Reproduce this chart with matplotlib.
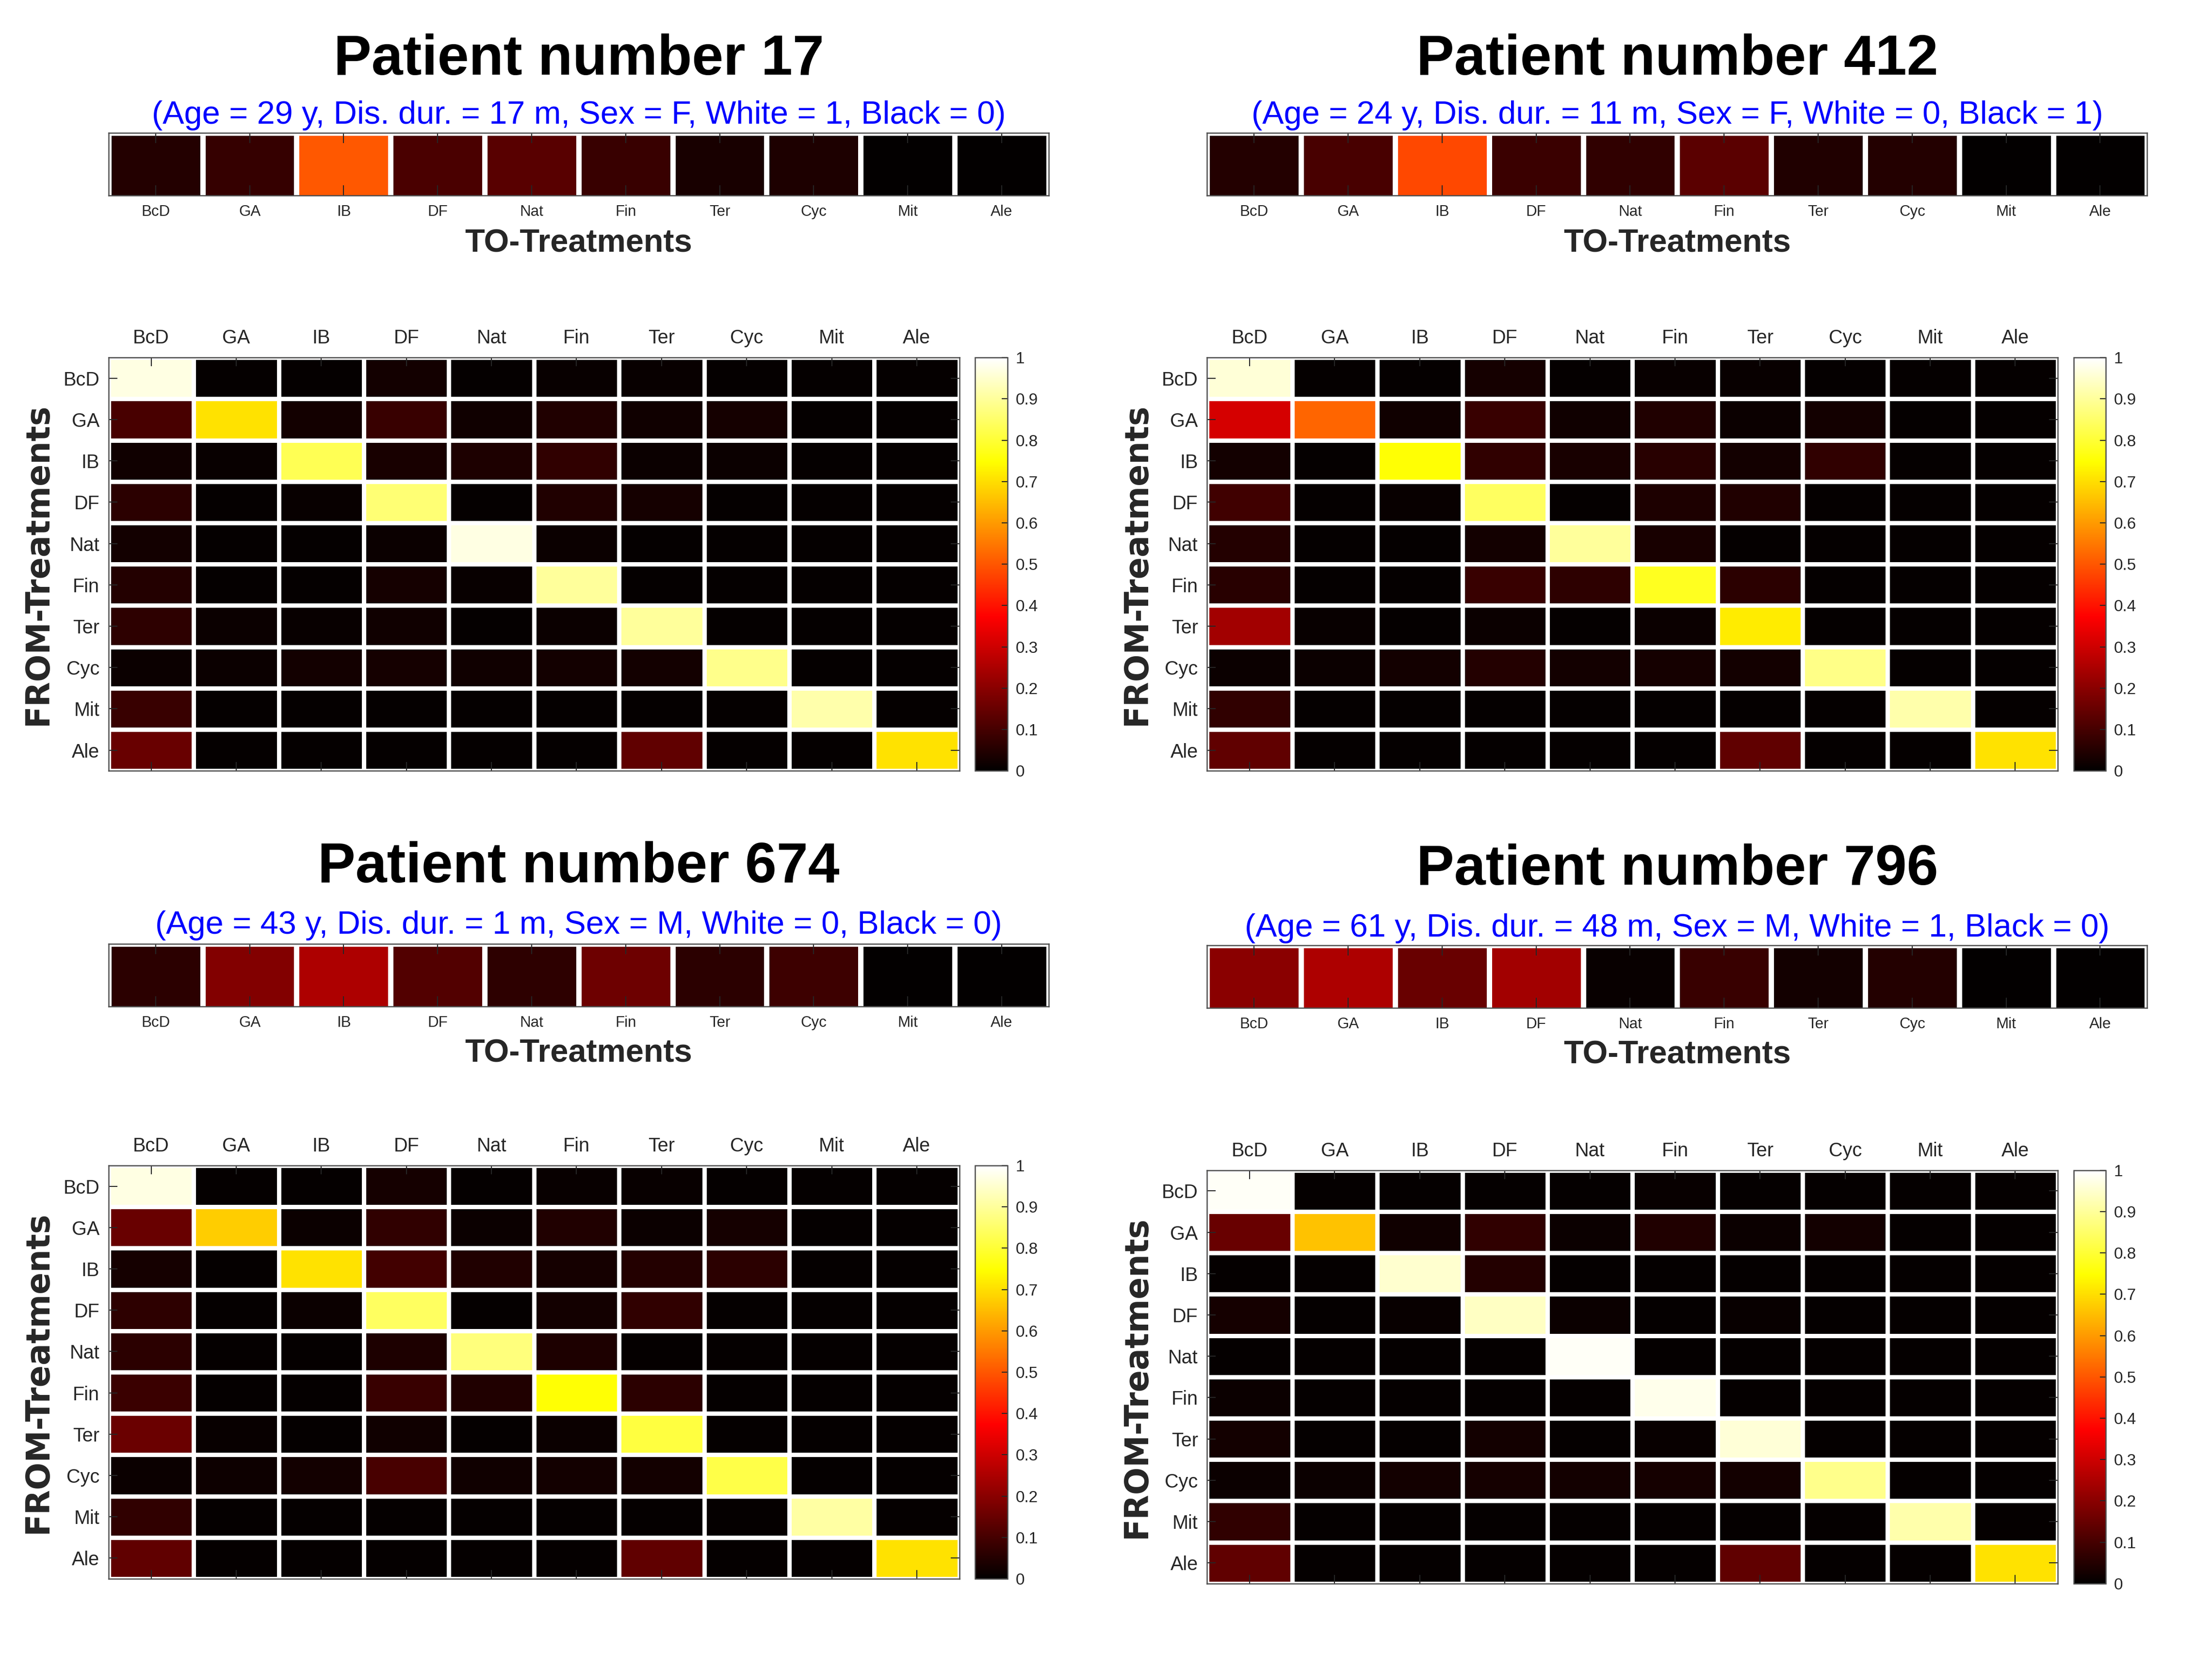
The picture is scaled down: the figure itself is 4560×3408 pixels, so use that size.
import numpy as np
import matplotlib
matplotlib.use('Agg')
import matplotlib.pyplot as plt
from matplotlib.colors import ListedColormap

# ---------------- data ----------------
treatments = ['BcD', 'GA', 'IB', 'DF', 'Nat', 'Fin', 'Ter', 'Cyc', 'Mit', 'Ale']
patients = [17, 412, 674, 796]
ages = [29, 24, 43, 61]
dis_dur = [17, 11, 1, 48]
sexes = ['F', 'F', 'M', 'M']
white_flag = [1, 0, 0, 1]
black_flag = [0, 1, 0, 0]

# TO-treatment probability (top bars)
to_p17 = [0.047, 0.078, 0.50, 0.106, 0.125, 0.082, 0.035, 0.040, 0.0, 0.0]
to_p412 = [0.050, 0.105, 0.48, 0.085, 0.070, 0.130, 0.045, 0.050, 0.0, 0.0]
to_p674 = [0.060, 0.190, 0.25, 0.118, 0.065, 0.160, 0.062, 0.088, 0.0, 0.0]
to_p796 = [0.200, 0.250, 0.15, 0.235, 0.010, 0.082, 0.027, 0.050, 0.0, 0.0]

# FROM -> TO transition matrices
from_p17 = [
    [0.970, 0.005, 0.005, 0.025, 0.005, 0.010, 0.008, 0.005, 0.005, 0.005],
    [0.105, 0.705, 0.025, 0.080, 0.020, 0.045, 0.020, 0.030, 0.005, 0.005],
    [0.020, 0.010, 0.830, 0.035, 0.040, 0.070, 0.015, 0.015, 0.005, 0.005],
    [0.060, 0.005, 0.010, 0.860, 0.005, 0.045, 0.030, 0.005, 0.005, 0.005],
    [0.025, 0.005, 0.005, 0.015, 0.970, 0.015, 0.005, 0.005, 0.005, 0.005],
    [0.050, 0.005, 0.005, 0.030, 0.010, 0.900, 0.005, 0.005, 0.005, 0.005],
    [0.065, 0.015, 0.010, 0.020, 0.005, 0.015, 0.900, 0.005, 0.005, 0.005],
    [0.015, 0.015, 0.025, 0.030, 0.020, 0.025, 0.025, 0.885, 0.005, 0.005],
    [0.080, 0.005, 0.005, 0.005, 0.005, 0.005, 0.005, 0.005, 0.915, 0.005],
    [0.150, 0.005, 0.005, 0.005, 0.005, 0.005, 0.140, 0.005, 0.005, 0.705],
]
from_p412 = [
    [0.960, 0.005, 0.005, 0.030, 0.005, 0.010, 0.010, 0.005, 0.005, 0.005],
    [0.310, 0.520, 0.020, 0.080, 0.020, 0.045, 0.015, 0.025, 0.005, 0.005],
    [0.025, 0.005, 0.750, 0.070, 0.035, 0.055, 0.025, 0.070, 0.005, 0.005],
    [0.090, 0.005, 0.010, 0.840, 0.005, 0.040, 0.045, 0.005, 0.005, 0.005],
    [0.050, 0.005, 0.005, 0.025, 0.900, 0.035, 0.005, 0.005, 0.005, 0.005],
    [0.055, 0.005, 0.005, 0.080, 0.065, 0.780, 0.060, 0.005, 0.005, 0.005],
    [0.235, 0.010, 0.005, 0.015, 0.005, 0.012, 0.720, 0.005, 0.005, 0.005],
    [0.015, 0.015, 0.025, 0.047, 0.025, 0.030, 0.025, 0.880, 0.005, 0.005],
    [0.070, 0.005, 0.005, 0.005, 0.005, 0.005, 0.005, 0.005, 0.915, 0.005],
    [0.140, 0.005, 0.005, 0.005, 0.005, 0.005, 0.140, 0.005, 0.005, 0.705],
]
from_p674 = [
    [0.970, 0.005, 0.005, 0.030, 0.005, 0.010, 0.010, 0.005, 0.005, 0.005],
    [0.150, 0.675, 0.015, 0.070, 0.015, 0.045, 0.015, 0.030, 0.005, 0.005],
    [0.030, 0.005, 0.705, 0.095, 0.045, 0.028, 0.050, 0.060, 0.005, 0.005],
    [0.065, 0.005, 0.012, 0.840, 0.005, 0.025, 0.070, 0.005, 0.005, 0.005],
    [0.062, 0.005, 0.005, 0.042, 0.870, 0.040, 0.005, 0.005, 0.005, 0.005],
    [0.085, 0.005, 0.005, 0.082, 0.045, 0.750, 0.060, 0.005, 0.005, 0.005],
    [0.155, 0.010, 0.005, 0.020, 0.005, 0.012, 0.810, 0.005, 0.005, 0.005],
    [0.015, 0.018, 0.025, 0.105, 0.020, 0.025, 0.025, 0.820, 0.005, 0.005],
    [0.070, 0.005, 0.005, 0.005, 0.005, 0.005, 0.005, 0.005, 0.910, 0.005],
    [0.140, 0.005, 0.005, 0.005, 0.005, 0.005, 0.140, 0.005, 0.005, 0.705],
]
from_p796 = [
    [0.990, 0.005, 0.005, 0.005, 0.005, 0.008, 0.005, 0.005, 0.005, 0.005],
    [0.150, 0.660, 0.020, 0.070, 0.015, 0.045, 0.015, 0.027, 0.005, 0.005],
    [0.005, 0.005, 0.950, 0.047, 0.005, 0.005, 0.005, 0.005, 0.005, 0.005],
    [0.030, 0.005, 0.010, 0.940, 0.012, 0.005, 0.010, 0.005, 0.005, 0.005],
    [0.005, 0.005, 0.005, 0.005, 0.990, 0.005, 0.005, 0.005, 0.005, 0.005],
    [0.012, 0.005, 0.005, 0.005, 0.005, 0.980, 0.005, 0.005, 0.005, 0.005],
    [0.025, 0.005, 0.005, 0.025, 0.005, 0.010, 0.960, 0.005, 0.005, 0.005],
    [0.015, 0.015, 0.025, 0.030, 0.025, 0.030, 0.027, 0.885, 0.005, 0.005],
    [0.070, 0.005, 0.005, 0.005, 0.005, 0.005, 0.005, 0.005, 0.915, 0.005],
    [0.140, 0.005, 0.005, 0.005, 0.005, 0.005, 0.140, 0.005, 0.005, 0.705],
]

to_all = [to_p17, to_p412, to_p674, to_p796]
from_all = [from_p17, from_p412, from_p674, from_p796]

# ---------------- MATLAB "hot" colormap ----------------
m = 256
n = int(3 * m / 8)
r = np.concatenate([np.arange(1, n + 1) / n, np.ones(m - n)])
g = np.concatenate([np.zeros(n), np.arange(1, n + 1) / n, np.ones(m - 2 * n)])
b = np.concatenate([np.zeros(2 * n), np.arange(1, m - 2 * n + 1) / (m - 2 * n)])
hot = ListedColormap(np.column_stack([r, g, b]))

plt.rcParams['font.family'] = ['Liberation Sans', 'DejaVu Sans']
TXT = '#262626'
FRAME = '#262626'
SPINE = '#4d4d4d'

fig = plt.figure(figsize=(15.2, 11.36), dpi=300)

col_left = [0.0491, 0.5457]
bar_w = 0.4250
mat_w = 0.3846
cb_off = 0.3917
cb_w = 0.0146
bar_h = 0.0378
mat_h = 0.2500
# per panel: bar bottom, matrix bottom, title y, subtitle y, xlabel y
rows = [
    dict(bar=0.8817, mat=0.5337, title=0.9638, sub=0.9301, xl=0.8526),
    dict(bar=0.8817, mat=0.5337, title=0.9638, sub=0.9301, xl=0.8526),
    dict(bar=0.3911, mat=0.0449, title=0.4753, sub=0.4400, xl=0.3624),
    dict(bar=0.3903, mat=0.0420, title=0.4736, sub=0.4383, xl=0.3616),
]

xe = np.arange(len(treatments) + 1) - 0.5

for k in range(4):
    L = col_left[k % 2]
    p = rows[k]
    cx = L + bar_w / 2

    fig.text(cx, p['title'], f'Patient number {patients[k]}', ha='center', va='center',
             fontsize=28, fontweight='bold', color='black')
    sub = (f'(Age = {ages[k]} y, Dis. dur. = {dis_dur[k]} m, Sex = {sexes[k]}, '
           f'White = {white_flag[k]}, Black = {black_flag[k]})')
    fig.text(cx, p['sub'], sub, ha='center', va='center', fontsize=16, color=(0, 0, 1))

    # ---- TO bar ----
    axb = fig.add_axes([L, p['bar'], bar_w, bar_h])
    axb.pcolormesh(xe, np.array([-0.5, 0.5]), np.array([to_all[k]]), cmap=hot, vmin=0, vmax=1,
                   edgecolors='white', linewidth=2.2)
    axb.set_xlim(-0.5, 9.5)
    axb.set_ylim(0.465, -0.5)
    axb.set_xticks(range(len(treatments)))
    axb.set_xticklabels(treatments, fontsize=7.5, color=TXT)
    axb.set_yticks([])
    axb.tick_params(axis='x', direction='in', length=5, width=0.5, color=FRAME,
                    top=True, bottom=True, pad=4.6)
    for s in axb.spines.values():
        s.set_color(SPINE)
        s.set_linewidth(0.6)
    fig.text(cx, p['xl'], 'TO-Treatments', ha='center', va='center', fontsize=16,
             fontweight='bold', color=TXT)

    # ---- FROM matrix ----
    axm = fig.add_axes([L, p['mat'], mat_w, mat_h])
    mesh = axm.pcolormesh(xe, xe, np.array(from_all[k]), cmap=hot, vmin=0, vmax=1,
                          edgecolors='white', linewidth=2.1)
    axm.set_xlim(-0.5, 9.5)
    axm.set_ylim(9.5, -0.5)
    axm.set_xticks(range(len(treatments)))
    axm.set_yticks(range(len(treatments)))
    axm.set_xticklabels(treatments, fontsize=9.5, color=TXT)
    axm.set_yticklabels(treatments, fontsize=9.5, color=TXT)
    axm.xaxis.tick_top()
    axm.tick_params(axis='x', direction='in', length=4.3, width=0.5, color=FRAME,
                    top=True, bottom=True, labeltop=True, labelbottom=False, pad=5)
    axm.tick_params(axis='y', direction='in', length=4.3, width=0.5, color=FRAME,
                    left=True, right=True, pad=4.5)
    for s in axm.spines.values():
        s.set_color(SPINE)
        s.set_linewidth(0.6)
    fig.text(L - 0.032, p['mat'] + mat_h / 2, 'FROM-Treatments', rotation=90,
             ha='center', va='center', fontsize=16, fontweight='bold', color=TXT,
             family=['DejaVu Sans'])

    # ---- colorbar ----
    cax = fig.add_axes([L + cb_off, p['mat'], cb_w, mat_h])
    cb = fig.colorbar(mesh, cax=cax, ticks=np.round(np.arange(0, 1.01, 0.1), 1))
    cb.ax.set_yticklabels(['0'] + [f'{v:.1f}' for v in np.arange(0.1, 0.95, 0.1)] + ['1'])
    cb.ax.tick_params(direction='in', length=3, width=0.5, color=FRAME, labelsize=8,
                      labelcolor=TXT, pad=4)
    cb.outline.set_edgecolor(SPINE)
    cb.outline.set_linewidth(0.6)

fig.savefig('out.png', dpi=300, facecolor='white')
